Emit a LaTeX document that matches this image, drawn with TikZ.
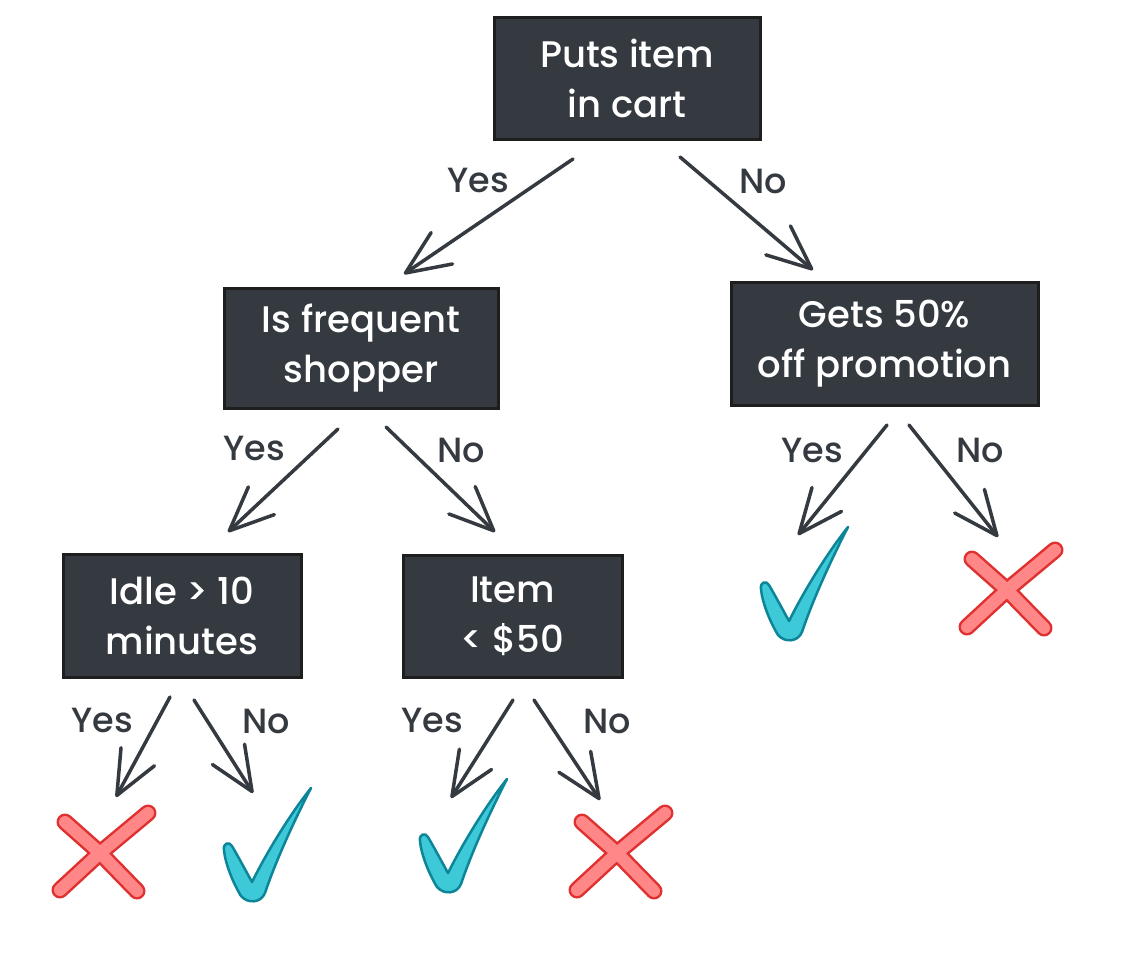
\documentclass[tikz,border=0pt]{standalone}
\usepackage{fontspec}
\setmainfont{Poppins}[UprightFont=* Medium]
\usetikzlibrary{arrows.meta}

\definecolor{boxfill}{HTML}{343A40}
\definecolor{boxline}{HTML}{1E1E1E}
\definecolor{ink}{HTML}{343A40}
\definecolor{checkfill}{HTML}{3EC9D9}
\definecolor{checkline}{HTML}{0C8599}
\definecolor{crossfill}{HTML}{FF8787}
\definecolor{crossline}{HTML}{E03131}

\tikzset{
  decision/.style={draw=boxline, line width=3pt, fill=boxfill, text=white,
    align=center, inner sep=0pt, font=\fontsize{37}{50}\selectfont},
  branch/.style={draw=ink, line width=3.5pt, line cap=round, line join=round,
    -{Straight Barb[length=44pt,width=38pt,round]}},
  answer/.style={text=ink, inner sep=0pt, font=\fontsize{35}{36}\selectfont},
  tick/.pic={
    \path[fill=checkfill, draw=checkline, line width=2.5pt, line join=round]
      (88,0) .. controls (70,35) and (52,75) .. (42,105)
      .. controls (38,115) and (25,116) .. (18,108)
      .. controls (10,95) and (2,75) .. (1,62)
      .. controls (0,55) and (6,53) .. (9,58)
      .. controls (16,70) and (24,85) .. (29,94)
      .. controls (45,62) and (68,25) .. (88,0) -- cycle;
  },
  crossmark/.pic={
    \draw[crossline, line width=17pt, line cap=round, line join=round]
      (-35,-31) -- (0,0) -- (37,38) (48,-40) -- (0,0) -- (-40,37);
    \draw[crossfill, line width=12pt, line cap=round, line join=round]
      (-35,-31) -- (0,0) -- (37,38) (48,-40) -- (0,0) -- (-40,37);
  }
}

\begin{document}
\begin{tikzpicture}[x=1pt, y=-1pt]
  \useasboundingbox (0,0) rectangle (1123,971);
  \fill[white] (0,0) rectangle (1123,971);

  % decision boxes
  \node[decision, minimum width=266pt, minimum height=121pt] (cart)  at (627,78.5) {Puts item\\in cart};
  \node[decision, minimum width=274pt, minimum height=120pt] (freq)  at (361,348)  {Is frequent\\shopper};
  \node[decision, minimum width=307pt, minimum height=123pt] (promo) at (884.5,343.5) {Gets 50\%\\off promotion};
  \node[decision, minimum width=238pt, minimum height=123pt] (idle)  at (182,615.5) {Idle > 10\\minutes};
  \node[decision, minimum width=219pt, minimum height=122pt] (price) at (512.5,616) {Item\\< \$50};

  % connector end points
  \coordinate (cartY)  at (573,159); \coordinate (freqIn)  at (404,274);
  \coordinate (cartN)  at (680,157); \coordinate (promoIn) at (813,270);
  \coordinate (freqY)  at (338,429); \coordinate (idleIn)  at (228,532);
  \coordinate (freqN)  at (386,427); \coordinate (priceIn) at (495,532);
  \coordinate (promoY) at (887,425); \coordinate (endA)    at (798,535);
  \coordinate (promoN) at (909,425); \coordinate (endB)    at (998,537);
  \coordinate (idleY)  at (170,697); \coordinate (endC)    at (116,797);
  \coordinate (idleN)  at (194,700); \coordinate (endD)    at (253,793);
  \coordinate (priceY) at (513,700); \coordinate (endE)    at (451,798);
  \coordinate (priceN) at (534,700); \coordinate (endF)    at (600,800);

  % branches
  \draw[branch] (cartY)  -- (freqIn);
  \draw[branch] (cartN)  -- (promoIn);
  \draw[branch] (freqY)  -- (idleIn);
  \draw[branch] (freqN)  -- (priceIn);
  \draw[branch] (promoY) -- (endA);
  \draw[branch] (promoN) -- (endB);
  \draw[branch] (idleY)  -- (endC);
  \draw[branch] (idleN)  -- (endD);
  \draw[branch] (priceY) -- (endE);
  \draw[branch] (priceN) -- (endF);

  % branch labels
  \node[answer] (l1)  at (478,180) {Yes};
  \node[answer] (l2)  at (763,181) {No};
  \node[answer] (l3)  at (254,448) {Yes};
  \node[answer] (l4)  at (461,450) {No};
  \node[answer] (l5)  at (812,450) {Yes};
  \node[answer] (l6)  at (980,450) {No};
  \node[answer] (l7)  at (102,720) {Yes};
  \node[answer] (l8)  at (266,721) {No};
  \node[answer] (l9)  at (432,720) {Yes};
  \node[answer] (l10) at (607,721) {No};

  % outcomes
  \pic at (760,527) {tick};
  \pic at (1007,590) {crossmark};
  \pic at (100,853) {crossmark};
  \pic at (223,788) {tick};
  \pic at (419,779) {tick};
  \pic at (617,853) {crossmark};
\end{tikzpicture}
\end{document}
